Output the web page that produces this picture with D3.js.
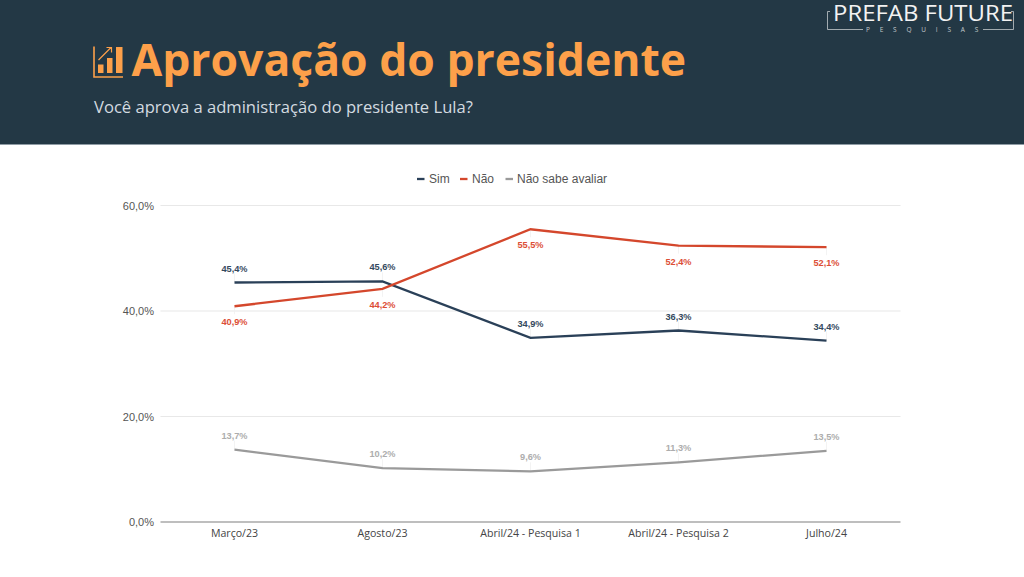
<!DOCTYPE html>
<html><head><meta charset="utf-8">
<script src="https://cdn.jsdelivr.net/npm/d3@7"></script>
<style>
html,body{margin:0;padding:0;background:#fff;overflow:hidden}
svg{display:block}
</style></head><body><svg id="c" width="1024" height="577"></svg>
<script>
const categories=["Março/23","Agosto/23","Abril/24 - Pesquisa 1","Abril/24 - Pesquisa 2","Julho/24"];
const sim=[45.4,45.6,34.9,36.3,34.4];
const nao=[40.9,44.2,55.5,52.4,52.1];
const naoSabe=[13.7,10.2,9.6,11.3,13.5];
const yTicks=[0,20,40,60];
const seriesNames=["Sim","Não","Não sabe avaliar"];
const seriesColors=["#2a4058","#d4472c","#9a9a9a"];
const labelColors=["#34495e","#dc4e36","#adadad"];
const fmt=v=>v.toFixed(1).replace(".",",")+"%";

const svg=d3.select("#c");
const x=d3.scaleBand().domain(categories).range([160.5,900.5]);
const y=d3.scaleLinear().domain([0,60]).range([522,205.5]);
const cx=c=>x(c)+x.bandwidth()/2;

// header
svg.append("rect").attr("width",1024).attr("height",144.5).attr("fill","#233845");
svg.append("rect").attr("y",144).attr("width",1024).attr("height",1).attr("fill","#8f9ca5");
const orange="#fda04a";
const icon=svg.append("g").attr("fill",orange).attr("stroke",orange);
icon.append("path").attr("fill","none").attr("stroke-width",1.6).attr("d","M94 46.5V77H123");
icon.append("rect").attr("x",98).attr("y",64.5).attr("width",5.5).attr("height",8.5).attr("stroke","none");
icon.append("rect").attr("x",107).attr("y",58).attr("width",5.5).attr("height",15).attr("stroke","none");
icon.append("rect").attr("x",116).attr("y",47).attr("width",6.5).attr("height",26).attr("stroke","none");
icon.append("path").attr("fill","none").attr("stroke-width",1.2).attr("d","M98.5 60L111 47.5M106.5 47.5H111.5V52.5");
svg.append("text").attr("x",131.5).attr("y",76).attr("font-family","Open Sans").attr("font-weight",700)
  .attr("font-size",44.5).attr("fill",orange).text("Aprovação do presidente");
svg.append("text").attr("x",94).attr("y",113).attr("font-family","Open Sans")
  .attr("font-size",16.6).attr("fill","#d3dbe0").text("Você aprova a administração do presidente Lula?");

// logo
svg.append("text").attr("x",923).attr("y",20.5).attr("text-anchor","middle").attr("font-family","Open Sans").attr("font-weight",500)
  .attr("font-size",21).attr("fill","#f2f2f2").attr("textLength",180).attr("lengthAdjust","spacingAndGlyphs").text("PREFAB FUTURE");
svg.append("text").attr("x",927).attr("y",32).attr("text-anchor","middle").attr("font-family","Open Sans")
  .attr("font-size",6.5).attr("letter-spacing",9.8).attr("fill","#c3c9cc").text("PESQUISAS");
svg.append("path").attr("fill","none").attr("stroke","#c3c9cc").attr("stroke-width",.8)
  .attr("d","M830 11.5H827.5V29.5H863M983 29.5H1013.5V11.5H1011");

// gridlines
svg.append("g").selectAll("line").data(yTicks).join("line")
  .attr("x1",160.5).attr("x2",900.5).attr("y1",d=>y(d)).attr("y2",d=>y(d))
  .attr("stroke",d=>d===0?"#a9a9a9":"#e8e8e8").attr("stroke-width",d=>d===0?1.3:1.2);

// axes
const yAxis=svg.append("g").attr("transform","translate(154,0)")
  .call(d3.axisLeft(y).tickValues(yTicks).tickSize(0).tickPadding(0).tickFormat(d=>d.toFixed(1).replace(".",",")+"%"));
yAxis.select(".domain").remove();
yAxis.selectAll("text").attr("font-family","Liberation Sans").attr("font-size",11).attr("fill","#555");
const xAxis=svg.append("g").attr("transform","translate(0,522)").call(d3.axisBottom(x).tickSize(0).tickPadding(7));
xAxis.select(".domain").remove();
xAxis.selectAll("text").attr("font-family","Open Sans").attr("font-size",10.6).attr("fill","#444");

// series
const all=[sim,nao,naoSabe];
const labelDy=[-11,19,-11];
const line=d3.line().x((d,i)=>cx(categories[i])).y(d=>y(d));
all.forEach((vals,s)=>{
  const g=svg.append("g");
  g.selectAll("line").data(vals).join("line").attr("x1",(d,i)=>cx(categories[i])).attr("x2",(d,i)=>cx(categories[i]))
    .attr("y1",d=>y(d)).attr("y2",d=>y(d)+(s===1?8:-9)).attr("stroke","#f0f0f0").attr("stroke-width",.8);
  g.append("path").attr("d",line(vals)).attr("fill","none").attr("stroke",seriesColors[s]).attr("stroke-width",2.3);
  g.selectAll("text").data(vals).join("text").attr("x",(d,i)=>cx(categories[i])).attr("y",d=>y(d)+labelDy[s])
    .attr("text-anchor","middle").attr("font-family","Liberation Sans").attr("font-weight",700).attr("font-size",9.2)
    .attr("fill",labelColors[s]).text(fmt);
});

// legend
const legendX=[417,460,505.5], legendTextX=[429,472,517];
seriesNames.forEach((n,i)=>{
  svg.append("line").attr("x1",legendX[i]).attr("x2",legendX[i]+7.5).attr("y1",179).attr("y2",179)
    .attr("stroke",seriesColors[i]).attr("stroke-width",2.3);
  svg.append("text").attr("x",legendTextX[i]).attr("y",183).attr("font-family","Liberation Sans").attr("font-size",12).attr("fill","#555").text(n);
});
</script></body></html>
